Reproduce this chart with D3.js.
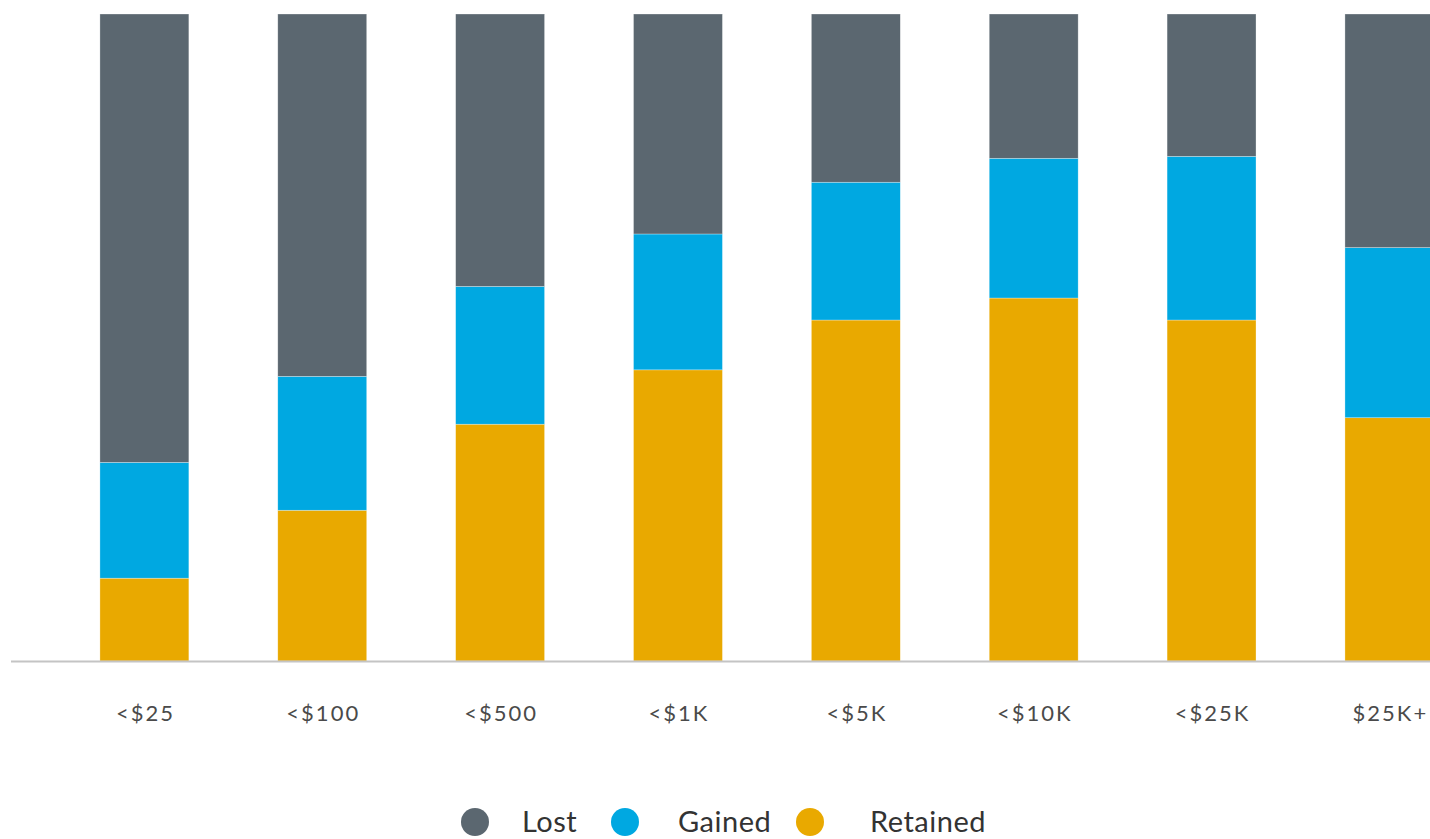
<!DOCTYPE html>
<html>
<head>
<meta charset="utf-8">
<script src="https://cdn.jsdelivr.net/npm/d3@7/dist/d3.min.js"></script>
<style>
  html, body { margin: 0; padding: 0; background: #fff; overflow: hidden; }
  svg { display: block; font-family: Lato, "Open Sans", sans-serif; }
</style>
</head>
<body>
<svg id="chart" width="1430" height="839"></svg>
<script>
const categories = ["<$25", "<$100", "<$500", "<$1K", "<$5K", "<$10K", "<$25K", "$25K+"];
const seriesNames = ["Retained", "Gained", "Lost"];
const retained = [12.8, 23.3, 36.6, 45.0, 52.7, 56.1, 52.7, 37.6];
const gained   = [17.9, 20.7, 21.3, 21.0, 21.3, 21.6, 25.3, 26.3];
const lost     = [69.3, 56.0, 42.1, 34.0, 26.0, 22.3, 22.0, 36.1];
const legendOrder = ["Lost", "Gained", "Retained"];
const colors = { Lost: "#5b6770", Gained: "#00a8e1", Retained: "#e9a900" };

const svg = d3.select("#chart");
const plotTop = 14, plotBottom = 661;

const x = d3.scaleBand().domain(categories).range([11, 1522.8]).paddingInner(0.5).paddingOuter(0.5);
const y = d3.scaleLinear().domain([0, 100]).range([plotBottom, plotTop]);

const rows = categories.map((c, i) => ({ cat: c, Retained: retained[i], Gained: gained[i], Lost: lost[i] }));
const stacked = d3.stack().keys(seriesNames).offset(d3.stackOffsetExpand)(rows);

const g = svg.append("g");
g.selectAll("g.series").data(stacked).join("g")
  .attr("class", "series")
  .attr("fill", d => colors[d.key])
  .selectAll("rect").data(d => d).join("rect")
  .attr("x", d => x(d.data.cat))
  .attr("width", x.bandwidth())
  .attr("y", d => y(d[1] * 100))
  .attr("height", d => y(d[0] * 100) - y(d[1] * 100))
  .attr("stroke", "#ffffff")
  .attr("stroke-width", 0.6)
  .attr("stroke-opacity", 0.5);

// axis
const axis = d3.axisBottom(x).tickSize(0).tickPadding(0);
const ax = svg.append("g").attr("transform", `translate(0,${plotBottom + 0.5})`).call(axis);
ax.select(".domain").attr("stroke", "#c4c4c4").attr("stroke-width", 2).attr("d", `M11,0H1430`);
ax.selectAll(".tick text")
  .attr("y", 52)
  .attr("dx", "1px")
  .attr("dy", "0.35em")
  .attr("fill", "#4a4a4a")
  .style("font-family", "Lato, sans-serif")
  .style("font-size", "22px")
  .style("letter-spacing", "2px");

// legend
const legendItems = [
  { name: "Lost", cx: 475, tx: 522 },
  { name: "Gained", cx: 625, tx: 678 },
  { name: "Retained", cx: 810, tx: 870 }
];
const lg = svg.append("g");
const items = lg.selectAll("g").data(legendOrder.map(n => legendItems.find(l => l.name === n))).join("g");
items.append("circle").attr("cx", d => d.cx).attr("cy", 822).attr("r", 14).attr("fill", d => colors[d.name]);
items.append("text").attr("x", d => d.tx).attr("y", 822).attr("dy", "0.36em")
  .attr("fill", "#333").style("font-size", "29px").style("font-family", "Lato, sans-serif")
  .style("letter-spacing", "0.5px")
  .text(d => d.name);
</script>
</body>
</html>
